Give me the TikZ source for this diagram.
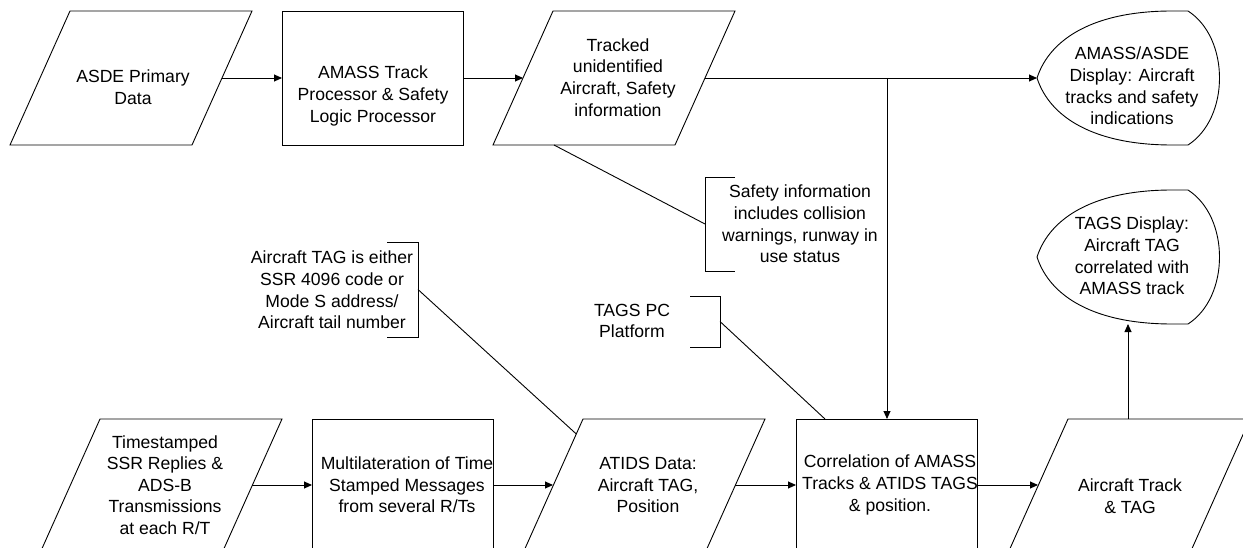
\documentclass[tikz,border=0pt]{standalone}
\usepackage{fontspec}
\setmainfont{Liberation Sans}
\usetikzlibrary{arrows.meta}
\tikzset{
  shapeline/.style={draw=black, line width=0.9pt, line join=miter},
  conn/.style={draw=black, line width=0.9pt},
  arr/.style={conn, -{Triangle[length=8pt,width=7pt]}},
  lbl/.style={align=center, inner sep=0pt, font=\fontsize{17.6}{21.6}\selectfont},
}
\newcommand{\paragram}[2]{\draw[shapeline] (#1,#2) -- ++(182,0) -- ++(-60,134) -- ++(-182,0) -- cycle;}
\newcommand{\procbox}[2]{\draw[shapeline] (#1,#2) rectangle ++(181,134);}
\newcommand{\dispshape}[1]{%
  \begin{scope}[shift={(0,#1)}]
  \draw[shapeline] (1037,78) .. controls (1050,38) and (1095,11) .. (1172,11) -- (1188,11)
     .. controls (1230,38) and (1230,118) .. (1188,145) -- (1172,145)
     .. controls (1095,145) and (1050,118) .. (1037,78) -- cycle;
  \end{scope}}
\begin{document}
\begin{tikzpicture}[x=1pt,y=-1pt]
\path[use as bounding box] (0,0) rectangle (1243,548);
\clip (0,0) rectangle (1243,548);

% ---- shapes, top row
\paragram{70}{11}
\procbox{282}{11}
\paragram{553}{11}
\dispshape{0}
% ---- shapes, bottom row
\paragram{100}{419}
\procbox{312}{419}
\paragram{583}{419}
\procbox{796}{419}
\paragram{1068}{419}
\dispshape{179}

% ---- annotation brackets
\draw[shapeline] (735,177) -- (705,177) -- (705,271) -- (735,271);
\draw[shapeline] (387,242) -- (418,242) -- (418,337) -- (387,337);
\draw[shapeline] (690,296) -- (720,296) -- (720,347) -- (690,347);

% ---- texts
\node[lbl] (asde) at (133,87) {ASDE Primary\\Data};
\node[lbl] (amass) at (373,96) {AMASS Track\\Processor \& Safety\\Logic Processor};
\node[lbl] (tracked) at (618,77.5) {Tracked\\unidentified\\Aircraft, Safety\\information};
\node[lbl] (disp1) at (1132,86) {AMASS/ASDE\\Display: Aircraft\\tracks and safety\\indications};
\node[lbl] (safety) at (800,224) {Safety information\\includes collision\\warnings, runway in\\use status};
\node[lbl] (tagnote) at (332,290) {Aircraft TAG is either\\SSR 4096 code or\\Mode S address/\\Aircraft tail number};
\node[lbl] (tagspc) at (632,321) {TAGS PC\\Platform};
\node[lbl] (disp2) at (1132,256) {TAGS Display:\\Aircraft TAG\\correlated with\\AMASS track};
\node[lbl] (times) at (165,485) {Timestamped\\SSR Replies \&\\ADS-B\\Transmissions\\at each R/T};
\node[lbl] (multi) at (407,485) {Multilateration of Time\\Stamped Messages\\from several R/Ts};
\node[lbl] (atids) at (648,485) {ATIDS Data:\\Aircraft TAG,\\Position};
\node[lbl] (corr) at (890,485) {Correlation of AMASS\\Tracks \& ATIDS TAGS\\\& position.};
\node[lbl] (actrack) at (1130,496) {Aircraft Track\\\& TAG};

% ---- connection points
\coordinate (asdeR) at (222,78);
\coordinate (amassL) at (282,78);
\coordinate (amassR) at (463,78);
\coordinate (trackedL) at (523,78);
\coordinate (trackedR) at (705,78);
\coordinate (trackedB) at (554,145);
\coordinate (junc) at (887,78);
\coordinate (disp1L) at (1037,78);
\coordinate (corrT) at (887,419);
\coordinate (corrT2) at (825,419);
\coordinate (corrL) at (796,485);
\coordinate (corrR) at (977,485);
\coordinate (timesR) at (252,485);
\coordinate (multiL) at (312,485);
\coordinate (multiR) at (493,485);
\coordinate (atidsL) at (553,485);
\coordinate (atidsR) at (735,485);
\coordinate (atidsE) at (576.3,434);
\coordinate (actrackL) at (1038,485);
\coordinate (actrackT) at (1128,419);
\coordinate (disp2B) at (1128,324);
\coordinate (safetyB) at (705,224);
\coordinate (tagnoteB) at (418,289.5);
\coordinate (tagspcB) at (720,321.5);

% ---- connectors
\draw[arr] (asdeR) -- (amassL);
\draw[arr] (amassR) -- (trackedL);
\draw[conn] (trackedR) -- (junc);
\draw[arr] (junc) -- (disp1L);
\draw[arr] (junc) -- (corrT);
\draw[arr] (timesR) -- (multiL);
\draw[arr] (multiR) -- (atidsL);
\draw[arr] (atidsR) -- (corrL);
\draw[arr] (corrR) -- (actrackL);
\draw[arr] (actrackT) -- (disp2B);
\draw[conn] (trackedB) -- (safetyB);
\draw[conn] (tagnoteB) -- (atidsE);
\draw[conn] (tagspcB) -- (corrT2);
\end{tikzpicture}
\end{document}
